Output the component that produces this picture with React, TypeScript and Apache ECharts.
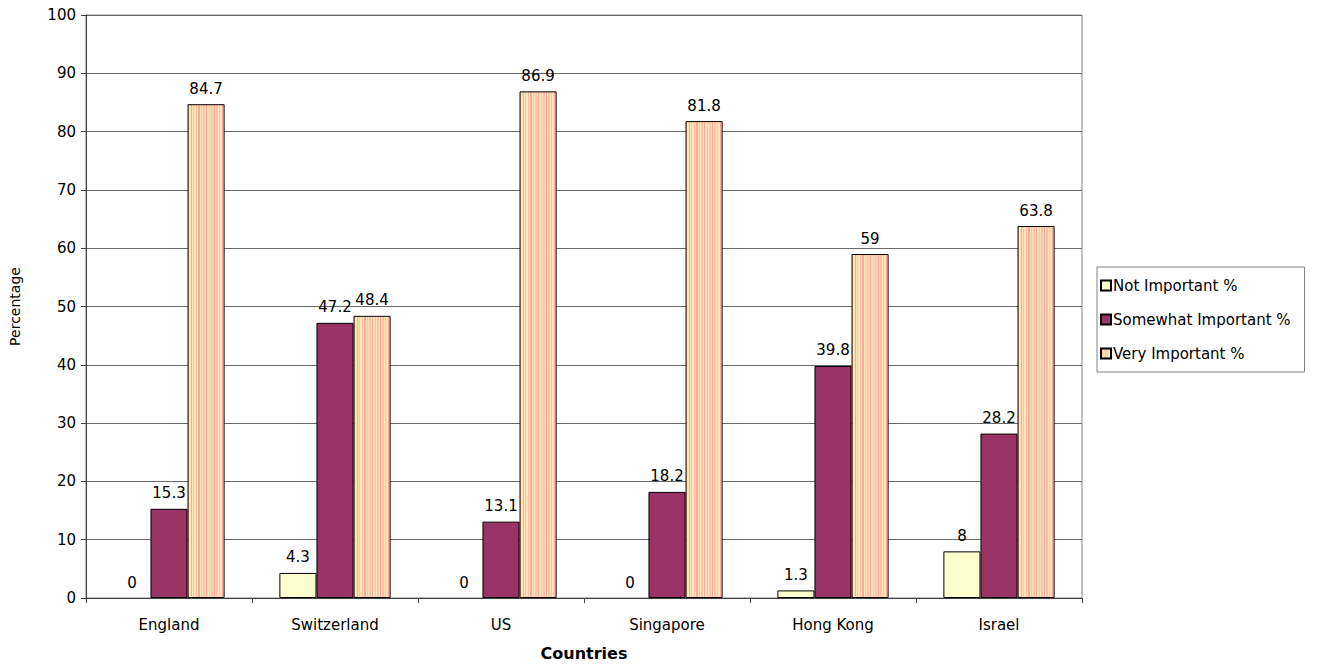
import React, { useEffect, useRef } from "react";
import * as echarts from "echarts";

const categories = ["England", "Switzerland", "US", "Singapore", "Hong Kong", "Israel"];
const notImportant = [0, 4.3, 0, 0, 1.3, 8];
const somewhatImportant = [15.3, 47.2, 13.1, 18.2, 39.8, 28.2];
const veryImportant = [84.7, 48.4, 86.9, 81.8, 59, 63.8];
const seriesNames = ["Not Important %", "Somewhat Important %", "Very Important %"];

function stripes() {
  const stops: { offset: number; color: string }[] = [];
  const n = 14;
  for (let i = 0; i < n; i++) {
    const a = i / n;
    const b = (i + 0.5) / n;
    const c = (i + 1) / n;
    const dark = i % 3 === 1 ? "#FFA8A0" : "#FFC4A4";
    stops.push({ offset: a, color: dark });
    stops.push({ offset: b, color: dark });
    stops.push({ offset: b, color: "#FFE4B8" });
    stops.push({ offset: c, color: "#FFE4B8" });
  }
  return new echarts.graphic.LinearGradient(0, 0, 1, 0, stops);
}

function withZeroBorder(values: number[]) {
  return values.map((v) => (v === 0 ? { value: v, itemStyle: { borderWidth: 0 } } : v));
}

export default function App() {
  const ref = useRef<HTMLDivElement>(null);
  useEffect(() => {
    if (!ref.current) return;
    const chart = echarts.init(ref.current, null, { renderer: "svg" });
    const font = "'DejaVu Sans', 'Liberation Sans', Arial, sans-serif";
    const fs = 15;
    const label = {
      show: true,
      position: "top" as const,
      color: "#000",
      fontSize: fs,
      fontFamily: font,
      distance: 8,
    };
    chart.setOption({
      animation: false,
      backgroundColor: "#fff",
      textStyle: { fontFamily: font },
      grid: {
        left: 82,
        right: 245,
        top: 15,
        bottom: 66,
        show: true,
        borderColor: "#808080",
        borderWidth: 1,
      },
      legend: {
        orient: "vertical",
        left: 1097,
        top: 267,
        padding: [11, 14, 11, 3],
        itemGap: 19,
        itemWidth: 10,
        itemHeight: 10,
        icon: "rect",
        borderColor: "#808080",
        borderWidth: 1,
        textStyle: { fontSize: fs, color: "#000", fontFamily: font, padding: [0, 0, 0, -3] },
        data: seriesNames,
      },
      xAxis: {
        type: "category",
        data: categories,
        name: "Countries",
        nameLocation: "middle",
        nameGap: 47,
        nameTextStyle: { fontSize: 16, fontWeight: "bold", color: "#000" },
        axisLine: { lineStyle: { color: "#404040" } },
        axisTick: { show: true, length: 5, lineStyle: { color: "#404040" } },
        axisLabel: { fontSize: fs, color: "#000", margin: 19 },
      },
      yAxis: {
        type: "value",
        min: 0,
        max: 100,
        interval: 10,
        name: "Percentage",
        nameLocation: "middle",
        nameGap: 64,
        nameRotate: 90,
        nameTextStyle: { fontSize: 14, color: "#000" },
        axisLine: { show: true, lineStyle: { color: "#404040" } },
        axisTick: { show: true, length: 5, lineStyle: { color: "#404040" } },
        axisLabel: { fontSize: fs, color: "#000", margin: 10 },
        splitLine: { lineStyle: { color: "#6a6a6a", width: 1 } },
      },
      series: [
        {
          name: seriesNames[0],
          type: "bar",
          data: withZeroBorder(notImportant),
          barGap: "0%",
          barCategoryGap: "33%",
          itemStyle: { color: "#FFFFCC", borderColor: "#000", borderWidth: 1 },
          label,
        },
        {
          name: seriesNames[1],
          type: "bar",
          data: withZeroBorder(somewhatImportant),
          barGap: "0%",
          barCategoryGap: "33%",
          itemStyle: { color: "#993366", borderColor: "#000", borderWidth: 1 },
          label,
        },
        {
          name: seriesNames[2],
          type: "bar",
          data: withZeroBorder(veryImportant),
          barGap: "0%",
          barCategoryGap: "33%",
          itemStyle: { color: stripes(), borderColor: "#000", borderWidth: 1 },
          label,
        },
      ],
    });
    return () => chart.dispose();
  }, []);
  return (
    <div
      ref={ref}
      style={{ position: "fixed", left: 0, top: 0, width: 1327, height: 666 }}
    />
  );
}
